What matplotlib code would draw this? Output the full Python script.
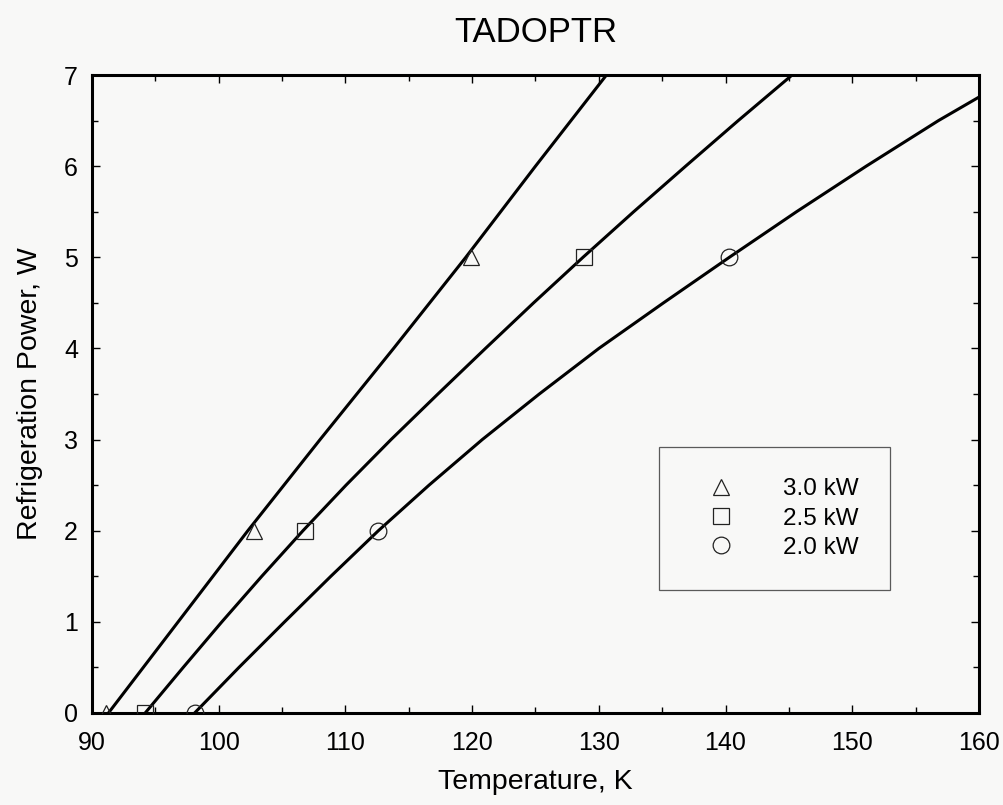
import matplotlib
matplotlib.use("Agg")
import matplotlib.pyplot as plt
from matplotlib.ticker import MultipleLocator

plt.rcParams['font.family'] = ['Liberation Sans', 'DejaVu Sans']

# refrigeration power (W) at which the curves were read
power = [0, 0.5, 1, 1.5, 2, 2.5, 3, 3.5, 4, 4.5, 5, 5.5, 6, 6.5, 7]

# temperature (K) at those powers
temp_30 = [91.3, 94.05, 96.8, 99.55, 102.3, 105.15, 108.0, 110.9, 113.8,
           116.65, 119.5, 122.25, 125.0, 127.8, 130.6]
temp_25 = [94.2, 97.2, 100.25, 103.4, 106.65, 110.05, 113.6, 117.3, 121.05,
           124.85, 128.75, 132.75, 136.85, 141.0, 145.25]
# the 2.0 kW curve leaves the frame at 160 K
power_20 = [0, 0.5, 1, 1.5, 2, 2.5, 3, 3.5, 4, 4.5, 5, 5.5, 6, 6.5, 6.75]
temp_20 = [98.1, 101.6, 105.2, 108.85, 112.6, 116.6, 120.8, 125.3, 130.0,
           135.1, 140.3, 145.6, 151.1, 156.8, 159.9]

# marked points
pts_power = [0, 2, 5]
pts_30 = [91.1, 102.8, 119.9]
pts_25 = [94.2, 106.8, 128.8]
pts_20 = [98.1, 112.6, 140.3]

labels = ["3.0 kW", "2.5 kW", "2.0 kW"]

bg = '#f8f8f7'
fig = plt.figure(figsize=(10.04, 8.05), dpi=100)
fig.patch.set_facecolor(bg)
ax = fig.add_axes([0.0916, 0.1143, 0.8835, 0.7925])
ax.set_facecolor(bg)

# curves
ax.plot(temp_30, power, color='black', lw=2.2, zorder=3)
ax.plot(temp_25, power, color='black', lw=2.2, zorder=3)
ax.plot(temp_20, power_20, color='black', lw=2.2, zorder=3)

# hollow markers
mk = dict(linestyle='none', markersize=12, markerfacecolor='none',
          markeredgecolor='#222222', markeredgewidth=0.9, zorder=4)
ax.plot(pts_30, pts_power, marker='^', label=labels[0], **mk)
ax.plot(pts_25, pts_power, marker='s', label=labels[1], **mk)
ax.plot(pts_20, pts_power, marker='o', label=labels[2], **mk)

ax.set_xlim(90, 160)
ax.set_ylim(0, 7)
ax.xaxis.set_major_locator(MultipleLocator(10))
ax.xaxis.set_minor_locator(MultipleLocator(5))
ax.yaxis.set_major_locator(MultipleLocator(1))
ax.yaxis.set_minor_locator(MultipleLocator(0.5))
ax.tick_params(which='both', direction='in', top=True, right=True, width=1.0)
ax.tick_params(which='major', length=6)
ax.tick_params(which='minor', length=4)
ax.tick_params(axis='x', labelsize=18, pad=13)
ax.tick_params(axis='y', labelsize=18, pad=10)
for s in ax.spines.values():
    s.set_linewidth(2.2)

ax.set_xlabel("Temperature, K", fontsize=20.5, labelpad=10)
ax.set_ylabel("Refrigeration Power, W", fontsize=20.5, labelpad=15)
ax.set_title("TADOPTR", fontsize=25, pad=24)

leg = ax.legend(loc='upper left', bbox_to_anchor=(0.639, 0.417),
                borderaxespad=0, fontsize=17.5, frameon=True, fancybox=False,
                borderpad=1.29, labelspacing=0.3, handlelength=2.56,
                handletextpad=1.27)
leg.get_frame().set_edgecolor('#333333')
leg.get_frame().set_linewidth(0.9)
leg.get_frame().set_facecolor(bg)

fig.savefig("out.png", dpi=100, facecolor=fig.get_facecolor())
